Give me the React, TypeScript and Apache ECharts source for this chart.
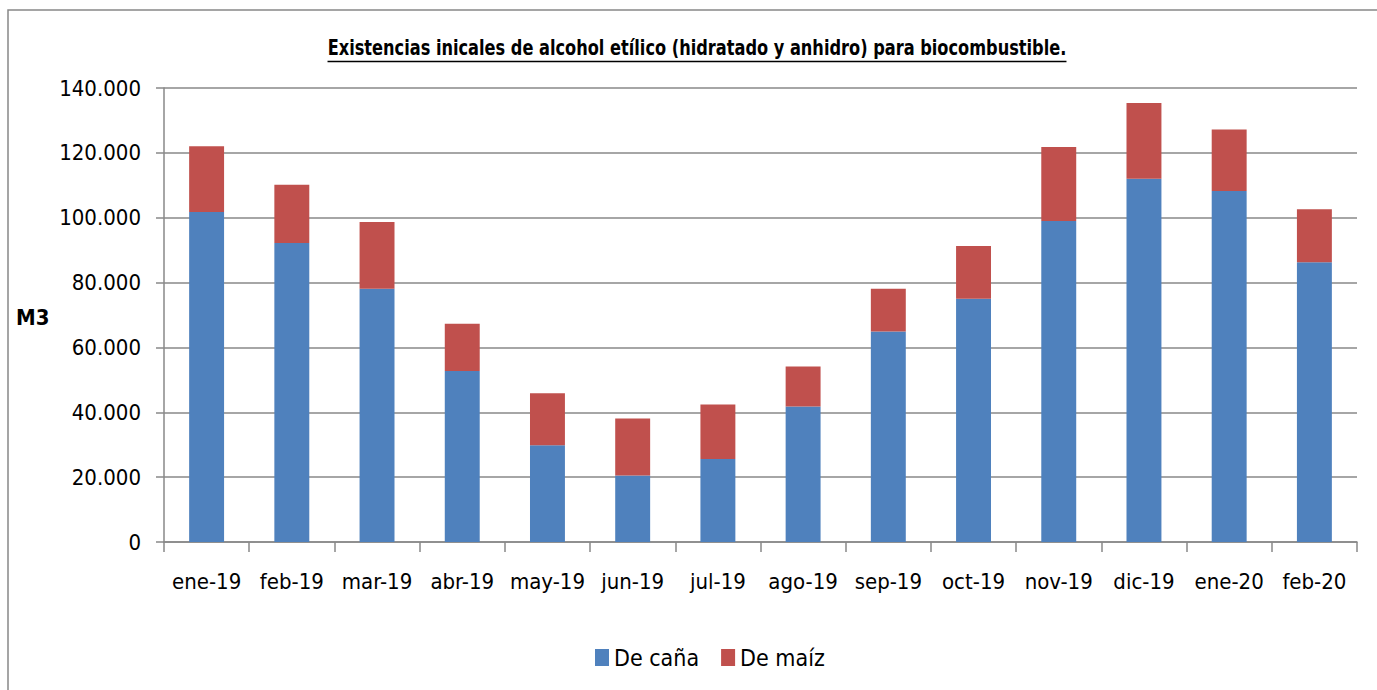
import React, { useEffect, useRef } from "react";
import * as echarts from "echarts";

const categories = ["ene-19", "feb-19", "mar-19", "abr-19", "may-19", "jun-19", "jul-19", "ago-19", "sep-19", "oct-19", "nov-19", "dic-19", "ene-20", "feb-20"];
const deCana = [101800, 92200, 78100, 52700, 29800, 20500, 25600, 41800, 64900, 75000, 99000, 112000, 108200, 86300];
const deMaiz = [20200, 18000, 20600, 14600, 16100, 17600, 16800, 12300, 13200, 16300, 22800, 23400, 19000, 16300];
const seriesNames = ["De caña", "De maíz"];
const titleText = "Existencias inicales de alcohol etílico (hidratado y anhidro) para biocombustible.";
const yAxisTitle = "M3";

const FONT = "'DejaVu Sans Condensed', 'Liberation Sans', sans-serif";

function fmt(v: number): string {
  return String(Math.round(v)).replace(/\B(?=(\d{3})+(?!\d))/g, ".");
}

export default function App() {
  const ref = useRef<HTMLDivElement>(null);
  useEffect(() => {
    document.body.style.margin = "0";
    if (!ref.current) return;
    const chart = echarts.init(ref.current, undefined, { renderer: "svg" });
    const titleSize = 18;
    const titleFont = `bold ${titleSize}px ${FONT}`;
    let tw = 738;
    try {
      const c = document.createElement("canvas").getContext("2d");
      if (c) { c.font = titleFont; tw = c.measureText(titleText).width; }
    } catch (e) {}
    const cx = 697;
    chart.setOption({
      animation: false,
      textStyle: { fontFamily: FONT },
      grid: { left: 164, right: 20, top: 88, bottom: 148 },
      legend: {
        top: 641,
        left: 590,
        itemWidth: 14,
        itemHeight: 17,
        itemGap: 22,
        icon: "rect",
        textStyle: { fontSize: 23, color: "#000", fontFamily: FONT },
        data: seriesNames,
      },
      xAxis: {
        type: "category",
        data: categories,
        axisLine: { lineStyle: { color: "#888", width: 1.5 } },
        axisTick: { show: true, length: 10, lineStyle: { color: "#888", width: 1.5 } },
        axisLabel: { fontSize: 22, color: "#000", margin: 28, interval: 0, fontFamily: FONT },
      },
      yAxis: {
        type: "value",
        min: 0,
        max: 140000,
        interval: 20000,
        axisLine: { show: true, lineStyle: { color: "#888", width: 1.5 } },
        axisTick: { show: true, length: 8, lineStyle: { color: "#888", width: 1.5 } },
        axisLabel: { fontSize: 22, color: "#000", margin: 23, fontFamily: FONT, formatter: (v: number) => fmt(v) },
        splitLine: { lineStyle: { color: "#888", width: 1.5 } },
      },
      series: [
        { name: seriesNames[0], type: "bar", stack: "t", data: deCana, barWidth: "41%", itemStyle: { color: "#4F81BD" } },
        { name: seriesNames[1], type: "bar", stack: "t", data: deMaiz, barWidth: "41%", itemStyle: { color: "#C0504D" } },
      ],
      graphic: [
        { type: "rect", shape: { x: 8, y: 10, width: 1400, height: 700 }, style: { fill: "none", stroke: "#888", lineWidth: 1.5 }, silent: true },
        { type: "text", x: cx, y: 59, scaleY: 1.2, style: { text: titleText, font: titleFont, fill: "#000", textAlign: "center", textVerticalAlign: "bottom" } },
        { type: "line", shape: { x1: cx - tw / 2, y1: 61.5, x2: cx + tw / 2, y2: 61.5 }, style: { stroke: "#000", lineWidth: 1.5 } },
        { type: "text", x: 16, y: 317, style: { text: yAxisTitle, font: `bold 22px ${FONT}`, fill: "#000", textVerticalAlign: "middle" } },
      ],
    });
    return () => chart.dispose();
  }, []);
  return <div ref={ref} style={{ width: 1377, height: 690 }} />;
}
